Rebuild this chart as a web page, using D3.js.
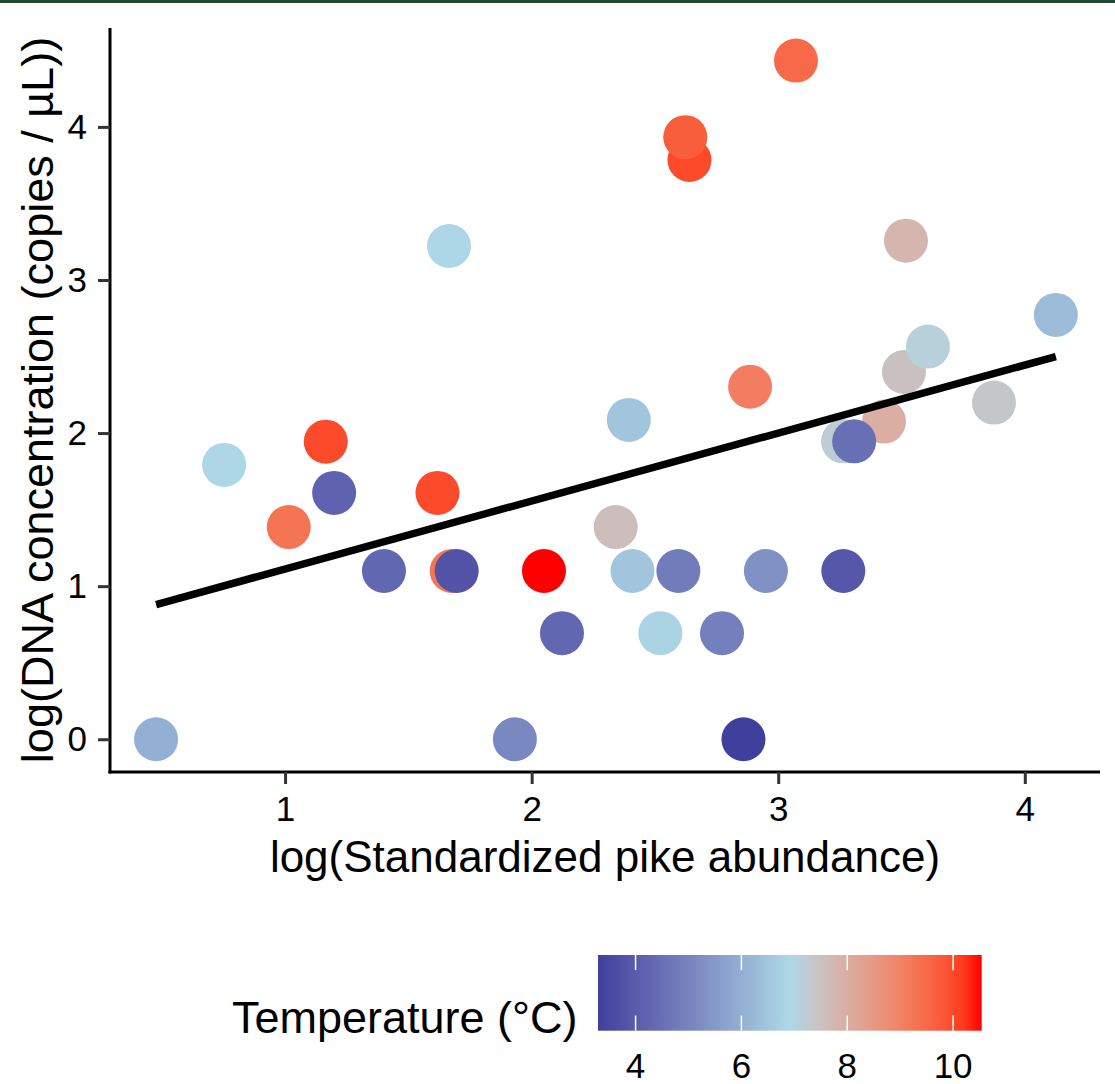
<!DOCTYPE html>
<html>
<head>
<meta charset="utf-8">
<script src="https://cdn.jsdelivr.net/npm/d3@7"></script>
<style>
  body { margin: 0; background: #fff; }
  text { font-family: "Liberation Sans", Arial, Helvetica, sans-serif; }
</style>
</head>
<body>
<div id="chart"></div>
<script>
// values (draw order keeps the overlaps right)
const abundance = [0.477, 0.753, 1.015, 1.165, 1.199, 1.401, 1.618, 1.676, 1.696, 1.665,
  2.050, 2.123, 1.932, 2.341, 2.394, 2.409, 2.522, 2.595, 2.640, 2.623,
  2.772, 2.859, 2.886, 2.950, 3.072, 3.264, 3.263, 3.429, 3.308, 3.510,
  3.518, 3.607, 3.875, 4.126];
const dnaConc = [0, 1.792, 1.386, 1.944, 1.609, 1.099, 1.609, 1.099, 1.099, 3.222,
  1.099, 0.693, 0, 1.386, 2.086, 1.099, 0.693, 1.099, 3.784, 3.933,
  0.693, 0, 2.303, 1.099, 4.433, 1.099, 1.946, 2.075, 1.946, 2.399,
  3.257, 2.565, 2.199, 2.772];
const temperature = [6.0, 6.9, 9.3, 10.0, 4.2, 4.3, 10.0, 9.3, 3.8, 6.9,
  10.54, 4.3, 5.1, 7.6, 6.5, 6.5, 6.8, 4.8, 10.0, 9.7,
  4.9, 3.29, 9.1, 5.3, 9.5, 3.9, 7.2, 8.0, 4.5, 7.5,
  7.8, 7.1, 7.35, 6.3];

// fitted line (lm) end points
const fitX = [0.477, 4.126];
const fitY = [0.88, 2.50];

const xTicks = [1, 2, 3, 4];
const yTicks = [0, 1, 2, 3, 4];
const tempTicks = [4, 6, 8, 10];
const tempColors = ["#413f9c", "#add8e6", "#ff0000"];

const width = 1115, height = 1084;
const panel = { left: 110, right: 1100, top: 28, bottom: 772 };

const svg = d3.select("#chart").append("svg")
  .attr("width", width)
  .attr("height", height);

// thin dark band at the very top
svg.append("rect")
  .attr("x", 0).attr("y", 0)
  .attr("width", width).attr("height", 3)
  .attr("fill", "#1f4b36");

const x = d3.scaleLinear().domain([0.29, 4.305]).range([panel.left, panel.right]);
const y = d3.scaleLinear().domain([-0.214, 4.646]).range([panel.bottom, panel.top]);

const tExtent = d3.extent(temperature);
const color = d3.scaleLinear()
  .domain([tExtent[0], (tExtent[0] + tExtent[1]) / 2, tExtent[1]])
  .range(tempColors)
  .interpolate(d3.interpolateLab);

const pts = abundance.map((a, i) => ({ x: a, y: dnaConc[i], t: temperature[i] }));

// points
svg.append("g").selectAll("circle")
  .data(pts)
  .enter()
  .append("circle")
  .attr("cx", d => x(d.x))
  .attr("cy", d => y(d.y))
  .attr("r", 22)
  .attr("fill", d => color(d.t));

// regression line
svg.append("path")
  .datum(fitX.map((v, i) => [v, fitY[i]]))
  .attr("d", d3.line().x(d => x(d[0])).y(d => y(d[1])))
  .attr("stroke", "#000")
  .attr("stroke-width", 7.5)
  .attr("fill", "none");

// axes
const xAxis = svg.append("g")
  .attr("transform", `translate(0,${panel.bottom})`)
  .call(d3.axisBottom(x).tickValues(xTicks).tickFormat(d3.format("d")).tickSize(12).tickPadding(12));
const yAxis = svg.append("g")
  .attr("transform", `translate(${panel.left},0)`)
  .call(d3.axisLeft(y).tickValues(yTicks).tickFormat(d3.format("d")).tickSize(12).tickPadding(11));

[xAxis, yAxis].forEach(a => {
  a.select(".domain").attr("stroke", "#000").attr("stroke-width", 3);
  a.selectAll(".tick line").attr("stroke", "#333").attr("stroke-width", 3);
  a.selectAll(".tick text")
    .attr("fill", "#000")
    .style("font-size", "35px")
    .style("font-family", "'Liberation Sans', Arial, sans-serif");
});
xAxis.select(".domain").attr("d", `M${panel.left - 1.5},0H${panel.right}`);
yAxis.select(".domain").attr("d", `M0,${panel.top}V${panel.bottom + 1.5}`);

// axis titles
svg.append("text")
  .attr("x", (panel.left + panel.right) / 2)
  .attr("y", 872)
  .attr("text-anchor", "middle")
  .style("font-size", "44px")
  .text("log(Standardized pike abundance)");

svg.append("text")
  .attr("transform", `translate(53,${(panel.top + panel.bottom) / 2}) rotate(-90)`)
  .attr("text-anchor", "middle")
  .style("font-size", "45px")
  .text("log(DNA concentration (copies / µL))");

// colour bar legend
const bar = { x0: 598, x1: 981.7, y0: 955, y1: 1030.7 };
const legX = d3.scaleLinear().domain(tExtent).range([bar.x0, bar.x1]);

const grad = svg.append("defs").append("linearGradient")
  .attr("id", "tempGrad")
  .attr("x1", "0%").attr("x2", "100%").attr("y1", "0%").attr("y2", "0%");
d3.range(0, 1.0001, 0.05).forEach(f => {
  grad.append("stop")
    .attr("offset", `${f * 100}%`)
    .attr("stop-color", color(tExtent[0] + f * (tExtent[1] - tExtent[0])));
});

svg.append("rect")
  .attr("x", bar.x0).attr("y", bar.y0)
  .attr("width", bar.x1 - bar.x0).attr("height", bar.y1 - bar.y0)
  .attr("fill", "url(#tempGrad)");

const tickLen = (bar.y1 - bar.y0) / 5;
const legTicks = svg.append("g");
tempTicks.forEach(t => {
  legTicks.append("line")
    .attr("x1", legX(t)).attr("x2", legX(t))
    .attr("y1", bar.y0).attr("y2", bar.y0 + tickLen)
    .attr("stroke", "#fff").attr("stroke-width", 1.5);
  legTicks.append("line")
    .attr("x1", legX(t)).attr("x2", legX(t))
    .attr("y1", bar.y1 - tickLen).attr("y2", bar.y1)
    .attr("stroke", "#fff").attr("stroke-width", 1.5);
});

svg.append("g").selectAll("text")
  .data(tempTicks)
  .enter()
  .append("text")
  .attr("x", d => legX(d))
  .attr("y", 1078)
  .attr("text-anchor", "middle")
  .style("font-size", "35px")
  .text(d => d);

svg.append("text")
  .attr("x", 232)
  .attr("y", 1033)
  .style("font-size", "45px")
  .text("Temperature (°C)");
</script>
</body>
</html>
